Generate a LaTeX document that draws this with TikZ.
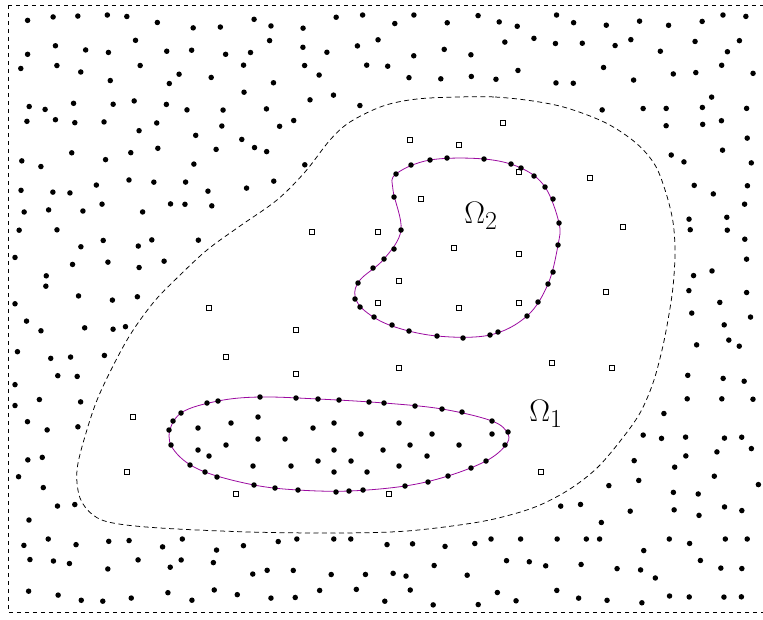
\documentclass[tikz,border=0pt]{standalone}
\definecolor{curvepurple}{RGB}{155,10,160}
\tikzset{
  dotc/.style={fill=black},
  framebox/.style={draw=black, line width=0.6pt, dash pattern=on 4pt off 4pt},
  domainline/.style={draw=black, line width=0.75pt, dash pattern=on 5pt off 3.5pt},
  omegaline/.style={draw=curvepurple, line width=0.8pt},
  sq/.style={draw=black, line width=0.55pt},
  lab/.style={font=\Huge, scale=1.25, inner sep=0pt, anchor=base west}
}
\begin{document}
\begin{tikzpicture}[x=1pt,y=-1pt]
\useasboundingbox (0,0) rectangle (763,619);
% outer frame
\draw[framebox] (8,5) -- (764,5);
\draw[framebox] (8,5) -- (8,612) -- (764,612);
% random dots outside the dashed domain
\pgfmathsetseed{11}
\foreach \j/\xl/\xr/\ymn in {0/-1/-1/15, 1/-1/-1/0, 2/-1/-1/0, 3/366/581/0,
  4/326/635/0, 5/305/660/0, 6/279/670/0, 7/241/677/0, 8/204/679/0, 9/174/679/0,
  10/148/678/0, 11/129/674/0, 12/113/668/0, 13/99/662/0, 14/88/653/0, 15/80/638/0,
  16/73/618/0, 17/73/591/0, 18/80/548/0, 19/-1/-1/539, 20/-1/-1/0, 21/-1/-1/0} {
  \foreach \i in {0,...,26} {
    \pgfmathsetmacro\px{min(max(21+28*\i+10*rand,15),759)}
    \pgfmathsetmacro\py{max(20+27.4*\j+10*rand,\ymn)}
    \pgfmathtruncatemacro\skipit{(\px>\xl)&&(\px<\xr)}
    \ifnum\skipit=0 \fill[dotc] (\px,\py) circle[radius=2.75pt]; \fi
  }
}
% dashed domain boundary
\draw[domainline] plot[smooth cycle, tension=0.55] coordinates {
 (459,97) (495,97) (533,101) (567,108) (606,123) (636,143) (655,165) (666,193)
 (673,222) (675,252) (673,287) (668,320) (662,350) (653,383) (640,413) (621,440)
 (597,468) (570,489) (540,505) (510,515) (473,523) (407,531) (340,533) (250,532)
 (160,528) (113,523) (93,515) (80,498) (77,470) (86,433) (100,393) (127,340)
 (153,303) (177,278) (207,250) (240,226) (277,200) (305,172) (330,140) (350,122)
 (383,106) (417,99)};
% Omega_1
\draw[omegaline] plot[smooth cycle, tension=0.6] coordinates {
 (169,436) (181,413) (218,401) (260,397) (318,399) (384,403) (442,409) (492,421)
 (508,434) (505,446) (486,461) (448,476) (405,486) (349,491) (298,490) (254,485)
 (205,472) (179,456)};
\foreach \p in {(171,445),(169,430),(173,421),(181,413),(207,403),(218,401),
 (260,397),(296,398),(318,399),(339,400),(369,402),(384,403),(415,406),(442,409),
 (462,412),(492,421),(508,432),(505,445),(486,461),(471,468),(448,476),(428,482),
 (405,486),(363,490),(349,491),(336,492),(298,490),(275,488),(254,485),(217,477),
 (205,472),(190,465),
 (198,428),(231,423),(258,417),(313,428),(334,423),(399,423),(361,434),(432,434),
 (492,434),(226,445),(258,439),(285,439),(410,445),(459,445),(198,450),(209,456),
 (334,450),(383,450),(427,456),(318,461),(351,461),(253,466),(291,466),(334,472),
 (367,472),(399,466)}
  \fill[dotc] \p circle[radius=2.75pt];
% Omega_2
\draw[omegaline] plot[smooth cycle, tension=0.6] coordinates {
 (396,174) (430,160) (484,159) (521,168) (545,187) (559,223) (558,245) (548,284)
 (527,316) (490,335) (437,336) (392,326) (365,311) (355,296) (360,280) (384,259)
 (401,230) (393,190)};
\foreach \p in {(396,174),(411,165),(430,160),(447,158),(484,159),(511,164),
 (521,168),(534,176),(545,187),(553,199),(559,223),(558,245),(553,272),(548,284),
 (538,302),(527,316),(498,332),(490,335),(463,338),(437,336),(409,331),(392,325),
 (374,317),(360,307),(355,299),(358,283),(373,268),(384,259),(394,249),(401,230),
 (394,197)}
  \fill[dotc] \p circle[radius=2.75pt];
% squares
\foreach \x/\y in {410/140, 459/145, 503/123, 519/172, 590/178, 421/199, 312/232,
 378/232, 623/227, 454/248, 519/254, 399/281, 606/292, 209/308, 378/303, 459/308,
 519/303, 296/330, 226/357, 296/374, 399/368, 552/363, 612/368, 133/417, 127/472,
 541/472, 236/494, 389/494}
  \draw[sq] (\x-2.3,\y-2.3) rectangle (\x+2.3,\y+2.3);
% labels
\node[lab] (om2) at (464,223) {$\Omega_2$};
\node[lab] (om1) at (529,421) {$\Omega_1$};
\end{tikzpicture}
\end{document}
